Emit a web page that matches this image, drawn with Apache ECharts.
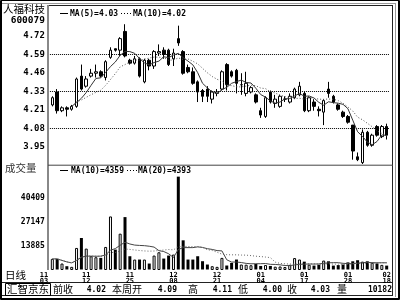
<!DOCTYPE html>
<html><head><meta charset="utf-8">
<script src="https://cdn.jsdelivr.net/npm/echarts@6/dist/echarts.min.js"></script>
<style>html,body{margin:0;padding:0;background:#fff}#c{width:400px;height:300px}</style>
</head><body><div id="c"></div>
<script>
// ---- data ----
const dates = ['11/03','11/04','11/05','11/08','11/09','11/10','11/11','11/12','11/15','11/16',
 '11/17','11/18','11/19','11/22','11/23','11/24','11/25','11/26','11/29','11/30',
 '12/01','12/02','12/03','12/06','12/07','12/08','12/09','12/10','12/13','12/14',
 '12/15','12/16','12/17','12/20','12/21','12/22','12/23','12/24','12/27','12/28',
 '12/29','12/30','12/31','01/04','01/05','01/06','01/07','01/10','01/11','01/12',
 '01/13','01/14','01/17','01/18','01/19','01/20','01/21','01/24','01/25','01/26',
 '01/27','01/28','01/31','02/01','02/09','02/10','02/11','02/14','02/15','02/18'];
const labelIndex = [0,7,16,25,34,43,52,61,69];
const opens  = [4.24,4.33,4.20,4.22,4.21,4.23,4.44,4.37,4.44,4.46, 4.47,4.43,4.57,4.63,4.62,4.75,4.55,4.53,4.56,4.40,
                4.55,4.51,4.60,4.62,4.62,4.56,4.70,4.61,4.50,4.47, 4.40,4.34,4.35,4.28,4.32,4.35,4.52,4.47,4.48,4.38,
                4.32,4.33,4.31,4.20,4.16,4.33,4.25,4.23,4.28,4.26, 4.29,4.31,4.32,4.20,4.26,4.21,4.19,4.35,4.30,4.24,
                4.19,4.16,4.10,3.88,3.84,4.05,3.96,4.09,4.02,4.09];
const closes = [4.29,4.20,4.22,4.21,4.23,4.42,4.35,4.42,4.46,4.47, 4.44,4.54,4.62,4.62,4.70,4.58,4.53,4.56,4.44,4.55,
                4.51,4.61,4.61,4.59,4.52,4.60,4.67,4.46,4.47,4.39, 4.33,4.30,4.30,4.33,4.33,4.47,4.38,4.44,4.39,4.38,
                4.39,4.36,4.26,4.17,4.29,4.26,4.28,4.30,4.28,4.30, 4.35,4.37,4.20,4.29,4.23,4.20,4.27,4.32,4.26,4.21,
                4.16,4.12,3.92,3.86,4.05,3.96,4.03,4.03,4.09,4.03];
const lows   = [4.23,4.18,4.19,4.16,4.20,4.22,4.34,4.36,4.43,4.43, 4.43,4.41,4.56,4.61,4.58,4.57,4.52,4.52,4.43,4.39,
                4.48,4.49,4.58,4.56,4.51,4.51,4.65,4.45,4.46,4.38, 4.26,4.26,4.26,4.25,4.30,4.34,4.34,4.43,4.32,4.31,
                4.30,4.32,4.25,4.15,4.15,4.25,4.22,4.22,4.26,4.25, 4.28,4.30,4.19,4.19,4.20,4.16,4.10,4.29,4.25,4.20,
                4.15,4.11,3.86,3.85,3.83,3.95,3.95,4.02,4.01,4.00];
const highs  = [4.30,4.35,4.23,4.23,4.24,4.43,4.52,4.44,4.49,4.52, 4.48,4.55,4.64,4.63,4.71,4.80,4.56,4.58,4.57,4.56,
                4.56,4.62,4.66,4.64,4.63,4.63,4.79,4.62,4.52,4.50, 4.41,4.35,4.37,4.34,4.35,4.48,4.53,4.48,4.49,4.46,
                4.47,4.37,4.32,4.22,4.30,4.34,4.31,4.31,4.30,4.32, 4.36,4.40,4.33,4.30,4.28,4.23,4.28,4.40,4.31,4.25,
                4.20,4.17,4.10,3.91,4.07,4.06,4.04,4.10,4.10,4.11];
const volumes = [6540,6540,3950,2470,2100,12650,18200,12280,8020,7470, 7100,13200,30220,11720,20600,29850,8020,6170,6170,6170,
                 3950,8390,10240,6730,8390,8950,52420,16900,6170,6170, 8020,5250,3400,2470,2100,7100,2840,4320,6170,3400,
                 3300,3000,3700,2600,3100,2600,2200,2300,2000,3200, 7000,6200,5000,3300,2800,3300,5600,5200,2800,3070,
                 3400,4600,5200,5800,5000,5200,4400,4000,3200,2790];
const priceLegend = ['MA(5)=4.03','MA(10)=4.02'];
const volLegend = ['MA(10)=4359','MA(20)=4393'];
const status = [['前收','4.02'],['本周开','4.09'],['高','4.11'],['低','4.00'],['收','4.03'],['量','10182']];

// ---- axis setup ----
const P_STEP = 0.1283, P_MIN = 3.8217, P_MAX = 4.9265;
const V_STEP = 13262, V_MIN = 623, V_MAX = 58800;

// moving average over the available window (the software draws lines from `from` onward)
function movingAvg(arr, n, from){
  return arr.map((_, i) => {
    if (i < from) return '-';
    const s = arr.slice(Math.max(0, i - n + 1), i + 1);
    return +(s.reduce((a, b) => a + b, 0) / s.length).toFixed(4);
  });
}
const candle = opens.map((o, i) => [o, closes[i], lows[i], highs[i]]);
const volData = volumes.map((v, i) => ({
  value: v,
  itemStyle: closes[i] >= opens[i] ? {color:'#fff', borderColor:'#000', borderWidth:1} : {color:'#000', borderColor:'#000', borderWidth:0}
}));

const MONO = '"DejaVu Sans Mono", monospace';
const CJK = '"Noto Sans CJK SC", sans-serif';
const GL = 49.9, GW = 339.2;

const gridColors = [];
for (let k = 0; k < 10; k++) gridColors.push((k === 2 || k === 4 || k === 6) ? '#000' : 'rgba(0,0,0,0)');

function L(x1,y1,x2,y2,color,w,dash){
  return {type:'line', silent:true, shape:{x1,y1,x2,y2}, style:{stroke:color, lineWidth:w||1, lineDash:dash||null}};
}
function T(x,y,text,font,align,color,weight,size){
  return {type:'text', silent:true, x, y, style:{text, fontFamily:font, fontSize:size, fontWeight:weight||'normal', fill:color||'#000', align:align||'left', verticalAlign:'middle'}};
}

const graphics = [
  {type:'rect', silent:true, shape:{x:0.5,y:0.5,width:399,height:299}, style:{fill:null, stroke:'#000', lineWidth:1}},
  L(1.5,0,1.5,300,'#000',1), L(398.5,0,398.5,300,'#000',1), L(0,298.5,400,298.5,'#000',1),
  L(2,3.5,396,3.5,'#999',1), L(395.5,3,395.5,297,'#999',1),
  L(47,5.5,393,5.5,'#222',1), L(392.5,5,392.5,296,'#222',1),
  L(48,5,48,270,'#888',2),
  L(48,165.2,393,165.2,'#444',1),
  L(2,282.5,393,282.5,'#222',1), L(2,295.5,393,295.5,'#222',1),
  {type:'rect', silent:true, shape:{x:5.5,y:283.5,width:45,height:12}, style:{fill:null, stroke:'#000', lineWidth:1}},
  T(3,9,'人福科技',CJK,'left','#000','normal',10.5),
  T(45,21,'600079',MONO,'right','#000','bold',9.5),
  L(60,13.5,68,13.5,'#000',1),
  T(70,13.5,priceLegend[0],MONO,'left','#000','bold',8),
  L(121,13.5,132,13.5,'#000',1,[1,2]),
  T(133,13.5,priceLegend[1],MONO,'left','#000','bold',8),
  T(5,168.5,'成交量',CJK,'left','#333','normal',10.5),
  L(60,170.5,68,170.5,'#000',1),
  T(71,170.5,volLegend[0],MONO,'left','#000','bold',8),
  L(127,170.5,137,170.5,'#000',1,[1,2]),
  T(138,170.5,volLegend[1],MONO,'left','#000','bold',8),
  T(5,275,'日线',CJK,'left','#000','normal',10.5),
  T(7,289.5,'汇智京东',CJK,'left','#000','normal',10.5)
];
const statusLabelX = [53, 112, 188, 238, 287, 337];
const statusValueX = [106, 177, 232, 282, 330, 392];
status.forEach((s, i) => {
  graphics.push(T(statusLabelX[i], 289.5, s[0], CJK, 'left', '#000', 'normal', 10));
  graphics.push(T(statusValueX[i], 289.5, s[1], MONO, 'right', '#000', 'bold', 8));
});

const option = {
  animation: false,
  backgroundColor: '#fff',
  grid: [
    {left: GL, width: GW, top: 6, height: 159.2},
    {left: GL, width: GW, top: 165.2, height: 104.3}
  ],
  xAxis: [
    {type:'category', data:dates, gridIndex:0, axisLine:{show:false}, axisTick:{show:false}, axisLabel:{show:false}, splitLine:{show:false}},
    {type:'category', data:dates, gridIndex:1, axisLine:{show:false}, axisTick:{show:false}, splitLine:{show:false},
     axisLabel:{interval:(i) => labelIndex.indexOf(i) >= 0, showMinLabel:true, showMaxLabel:true,
       formatter:(v, i) => { const p = v.split('/'); return i === 0 ? p[0] + '    \n' + p[1] + '    ' : p[0] + '\n' + p[1]; },
       fontFamily: MONO, fontSize: 7, fontWeight:'bold', color:'#000', lineHeight:5.5, margin:3}}
  ],
  yAxis: [
    {type:'value', gridIndex:0, min:P_MIN, max:P_MAX, interval:P_STEP, scale:true,
     axisLine:{show:false}, axisTick:{show:false},
     splitLine:{show:true, lineStyle:{color:gridColors, type:[1,1], width:1}},
     axisLabel:{formatter:(v) => (v > 3.9 && v < 4.8) ? v.toFixed(2) : '', fontFamily:MONO, fontSize:9, fontWeight:'bold', color:'#000', margin:5}},
    {type:'value', gridIndex:1, min:V_MIN, max:V_MAX, interval:V_STEP,
     axisLine:{show:false}, axisTick:{show:false}, splitLine:{show:false},
     axisLabel:{formatter:(v) => (v > 1000 && v < 45000) ? String(Math.round(v)) : '', fontFamily:MONO, fontSize:8, fontWeight:'bold', color:'#000', margin:5}}
  ],
  series: [
    {type:'candlestick', xAxisIndex:0, yAxisIndex:0, data:candle, barWidth:3,
     itemStyle:{color:'#fff', color0:'#000', borderColor:'#000', borderColor0:'#000', borderWidth:1}},
    {type:'line', xAxisIndex:0, yAxisIndex:0, data:movingAvg(closes,5,4), showSymbol:false, symbol:'none',
     lineStyle:{color:'#333', width:1}},
    {type:'line', xAxisIndex:0, yAxisIndex:0, data:movingAvg(closes,10,4), showSymbol:false, symbol:'none',
     lineStyle:{color:'#555', width:1, type:[1,2]}},
    {type:'bar', xAxisIndex:1, yAxisIndex:1, data:volData, barWidth:3},
    {type:'line', xAxisIndex:1, yAxisIndex:1, data:movingAvg(volumes,10,0), showSymbol:false, symbol:'none',
     lineStyle:{color:'#444', width:1}},
    {type:'line', xAxisIndex:1, yAxisIndex:1, data:movingAvg(volumes,20,0), showSymbol:false, symbol:'none',
     lineStyle:{color:'#666', width:1, type:[1,2]}}
  ],
  graphic: graphics
};
const chart = echarts.init(document.getElementById('c'), null, {renderer:'canvas'});
chart.setOption(option);
</script></body></html>
